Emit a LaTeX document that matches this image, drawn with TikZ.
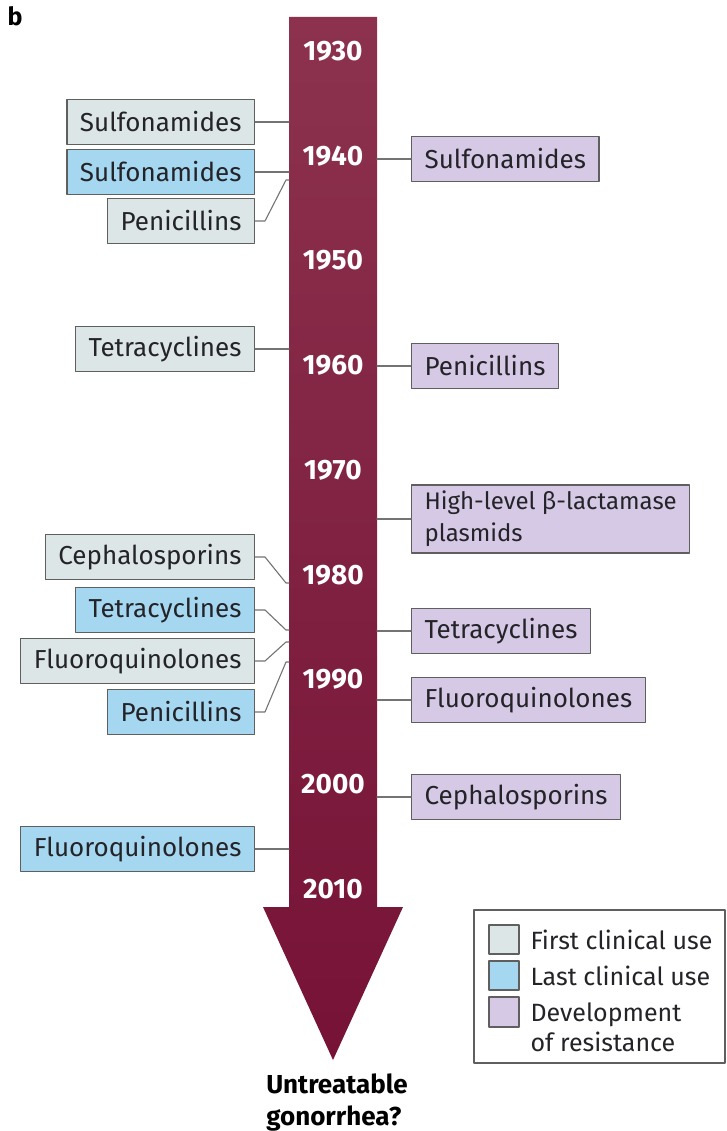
\documentclass[tikz,border=0pt]{standalone}
\usepackage{fontspec}
\setmainfont{Fira Sans}
\usetikzlibrary{positioning}

\definecolor{shafttop}{RGB}{140,50,78}
\definecolor{shaftbot}{RGB}{118,18,54}
\definecolor{firstuse}{RGB}{220,230,231}
\definecolor{lastuse}{RGB}{166,215,240}
\definecolor{resist}{RGB}{214,201,229}
\definecolor{edgegrey}{RGB}{95,95,95}
\definecolor{linkgrey}{RGB}{115,115,115}
\definecolor{inkgrey}{RGB}{35,35,40}

\begin{document}
\begin{tikzpicture}[
	x=1pt, y=-1pt,
	every node/.style={font=\fontsize{26}{31}\selectfont, text=inkgrey},
	drug/.style={draw=edgegrey, line width=1.2pt, minimum height=45pt, inner xsep=13pt, inner ysep=4pt},
	firstbox/.style={drug, fill=firstuse, anchor=east},
	lastbox/.style={drug, fill=lastuse, anchor=east},
	resbox/.style={drug, fill=resist, anchor=west},
	swatch/.style={draw=edgegrey, line width=1.2pt},
	link/.style={draw=linkgrey, line width=1.1pt},
	year/.style={text=white, font=\fontsize{28}{32}\selectfont\bfseries},
	line cap=round,
	line join=round
	]
	
	\useasboundingbox (0,0) rectangle (727,1131);
	
	% Panel letter
	\node[font=\fontsize{25}{30}\selectfont\bfseries, text=black] (panel) at (15,16) {b};
	
	% Time arrow
	\shade[top color=shafttop, bottom color=shaftbot]
		(289,17) -- (377,17) -- (377,907) -- (403,907) -- (333,1060)
		-- (263,907) -- (289,907) -- cycle;
	\coordinate (shaftL) at (289,0);
	\coordinate (shaftR) at (377,0);
	
	% Years
	\foreach \yr [count=\i from 0] in {1930,1940,...,2010}
		\node[year] (y\yr) at (333, 51+104.75*\i) {\yr};
	
	% First and last clinical use
	\node[firstbox] (sulfaF)   at (255,122) {Sulfonamides};
	\node[lastbox]  (sulfaL)   at (255,172) {Sulfonamides};
	\node[firstbox] (penF)     at (255,221) {Penicillins};
	\node[firstbox] (tetraF)   at (255,349) {Tetracyclines};
	\node[firstbox] (cephF)    at (255,557) {Cephalosporins};
	\node[lastbox]  (tetraL)   at (255,610) {Tetracyclines};
	\node[firstbox] (fluoroF)  at (255,661) {Fluoroquinolones};
	\node[lastbox]  (penL)     at (255,712) {Penicillins};
	\node[lastbox]  (fluoroL)  at (255,849) {Fluoroquinolones};
	
	\coordinate (jPen)    at (289,180);
	\coordinate (jCeph)   at (289,583);
	\coordinate (jTetra)  at (289,630);
	\coordinate (jFluoro) at (289,642);
	\coordinate (jPenL)   at (289,662);
	
	\draw[link] (sulfaF.east) -- (sulfaF.east -| shaftL);
	\draw[link] (sulfaL.east) -- (sulfaL.east -| shaftL);
	\draw[link] (penF.east) -- ++(10,0) -- ([xshift=-3pt]jPen) -- (jPen);
	\draw[link] (tetraF.east) -- (tetraF.east -| shaftL);
	\draw[link] (cephF.east) -- ++(10,0) -- ([xshift=-3pt]jCeph) -- (jCeph);
	\draw[link] (tetraL.east) -- ++(10,0) -- ([xshift=-3pt]jTetra) -- (jTetra);
	\draw[link] (fluoroF.east) -- ++(10,0) -- ([xshift=-3pt]jFluoro) -- (jFluoro);
	\draw[link] (penL.east) -- ++(10,0) -- ([xshift=-3pt]jPenL) -- (jPenL);
	\draw[link] (fluoroL.east) -- (fluoroL.east -| shaftL);
	
	% Development of resistance
	\node[resbox] (sulfaR)  at (411,159) {Sulfonamides};
	\node[resbox] (penR)    at (411,366) {Penicillins};
	\node[resbox, align=left, inner ysep=6pt, font=\fontsize{24}{32}\selectfont] (betaR) at (411,519)
		{High-level β-lactamase\\plasmids};
	\node[resbox] (tetraR)  at (411,631) {Tetracyclines};
	\node[resbox] (fluoroR) at (411,700) {Fluoroquinolones};
	\node[resbox] (cephR)   at (411,797) {Cephalosporins};
	
	\foreach \n in {sulfaR,penR,betaR,tetraR,fluoroR,cephR}
		\draw[link] (\n.west) -- (\n.west -| shaftR);
	
	% Outcome
	\node[font=\fontsize{26}{32}\selectfont\bfseries, text=black, align=left] (outcome)
		at (337,1103) {Untreatable\\gonorrhea?};
	
	% Legend
	\draw[swatch, fill=white] (474,910) rectangle (725,1063);
	\draw[swatch, fill=firstuse] (489,925) rectangle (519,954);
	\draw[swatch, fill=lastuse] (489,961) rectangle (519,990);
	\draw[swatch, fill=resist] (489,997) rectangle (519,1027);
	\node[anchor=west, font=\fontsize{25}{30}\selectfont] (keyFirst) at (527,940) {First clinical use};
	\node[anchor=west, font=\fontsize{25}{30}\selectfont] (keyLast)  at (527,976) {Last clinical use};
	\node[anchor=west, align=left, font=\fontsize{25}{30}\selectfont] (keyRes) at (527,1027) {Development\\of resistance};
	
\end{tikzpicture}
\end{document}
